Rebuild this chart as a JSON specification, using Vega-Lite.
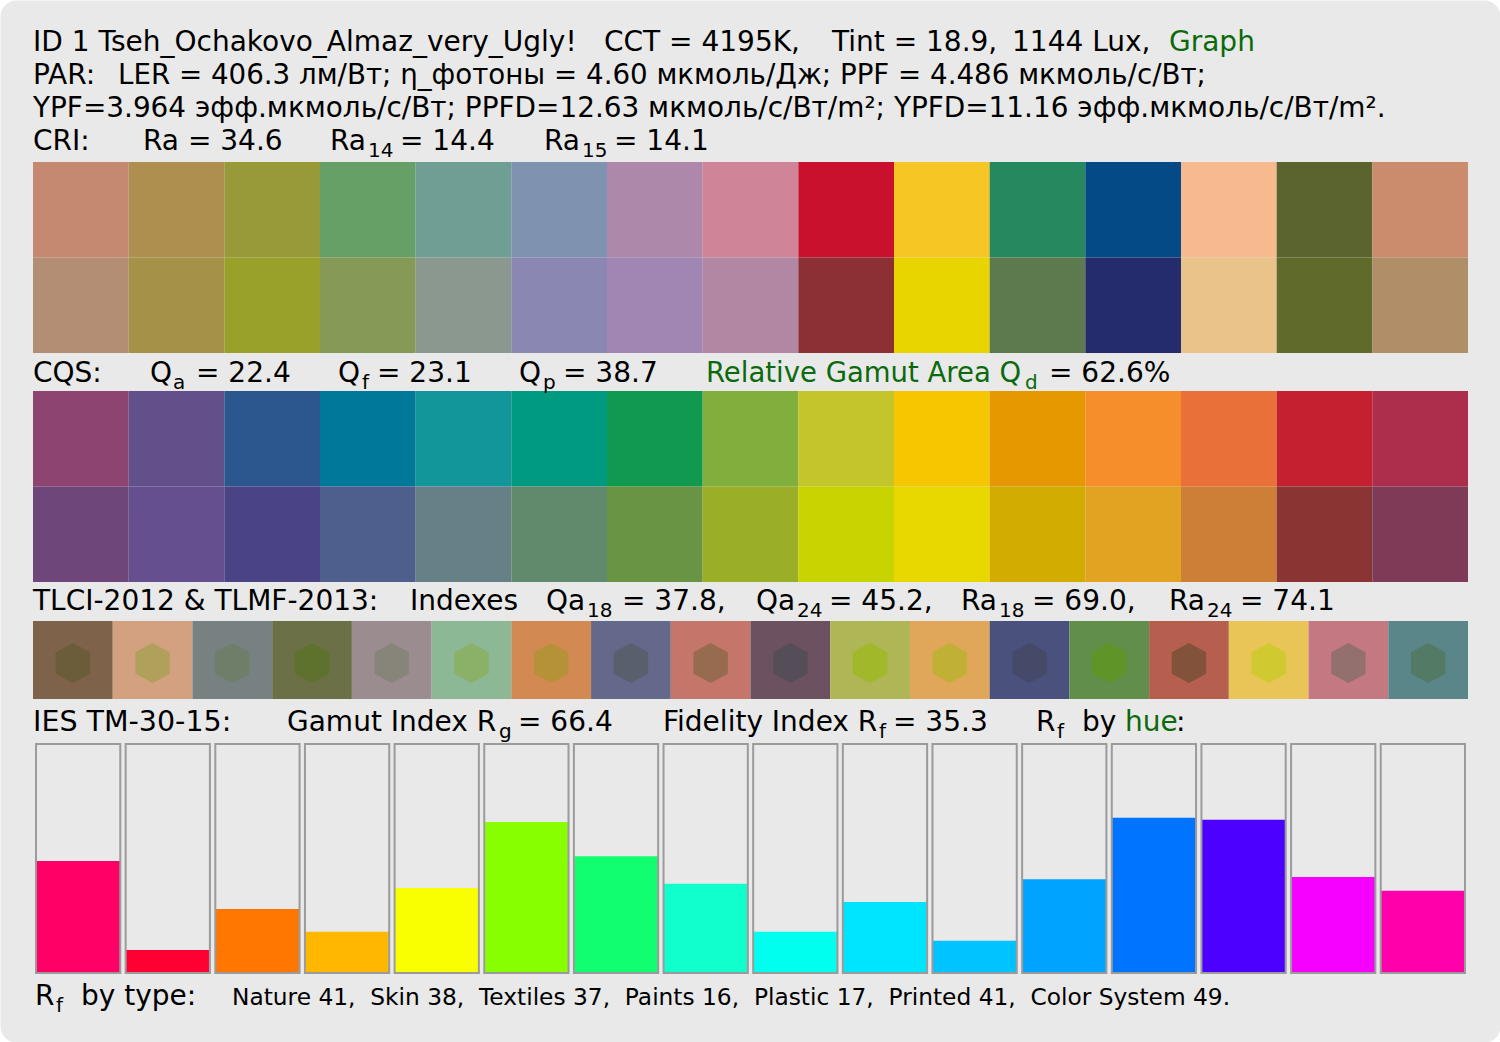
{
  "$schema": "https://vega.github.io/schema/vega-lite/v6.json",
  "width": 1500,
  "height": 1042,
  "autosize": {"type": "none"},
  "padding": 0,
  "background": "#ffffff",
  "view": {"fill": "#e9e9e9", "stroke": "transparent", "cornerRadius": 16},
  "config": {
    "text": {"font": "DejaVu Sans", "fontSize": 28, "align": "left", "baseline": "alphabetic", "fill": "#000000"}
  },
  "datasets": {
    "cri": [
      {"n": 1, "row": "top", "rgb": "#c58870"}, {"n": 2, "row": "top", "rgb": "#af8f50"}, {"n": 3, "row": "top", "rgb": "#989a3a"},
      {"n": 4, "row": "top", "rgb": "#67a067"}, {"n": 5, "row": "top", "rgb": "#6f9e94"}, {"n": 6, "row": "top", "rgb": "#7f93b1"},
      {"n": 7, "row": "top", "rgb": "#ae88aa"}, {"n": 8, "row": "top", "rgb": "#cf8498"}, {"n": 9, "row": "top", "rgb": "#c9112e"},
      {"n": 10, "row": "top", "rgb": "#f6c624"}, {"n": 11, "row": "top", "rgb": "#25885e"}, {"n": 12, "row": "top", "rgb": "#034a87"},
      {"n": 13, "row": "top", "rgb": "#f7ba8e"}, {"n": 14, "row": "top", "rgb": "#5b632e"}, {"n": 15, "row": "top", "rgb": "#cb8c6e"},
      {"n": 1, "row": "bottom", "rgb": "#b38e75"}, {"n": 2, "row": "bottom", "rgb": "#a69149"}, {"n": 3, "row": "bottom", "rgb": "#9aa12a"},
      {"n": 4, "row": "bottom", "rgb": "#849a56"}, {"n": 5, "row": "bottom", "rgb": "#8b9890"}, {"n": 6, "row": "bottom", "rgb": "#8a88b2"},
      {"n": 7, "row": "bottom", "rgb": "#a186b4"}, {"n": 8, "row": "bottom", "rgb": "#b287a4"}, {"n": 9, "row": "bottom", "rgb": "#8c3034"},
      {"n": 10, "row": "bottom", "rgb": "#e8d500"}, {"n": 11, "row": "bottom", "rgb": "#5c7a4e"}, {"n": 12, "row": "bottom", "rgb": "#252c6e"},
      {"n": 13, "row": "bottom", "rgb": "#eac38a"}, {"n": 14, "row": "bottom", "rgb": "#606a2a"}, {"n": 15, "row": "bottom", "rgb": "#b08e68"}
    ],
    "cqs": [
      {"n": 1, "row": "top", "rgb": "#8e4470"}, {"n": 2, "row": "top", "rgb": "#61508a"}, {"n": 3, "row": "top", "rgb": "#2b568e"},
      {"n": 4, "row": "top", "rgb": "#00789a"}, {"n": 5, "row": "top", "rgb": "#13969a"}, {"n": 6, "row": "top", "rgb": "#009a80"},
      {"n": 7, "row": "top", "rgb": "#10994f"}, {"n": 8, "row": "top", "rgb": "#81af3e"}, {"n": 9, "row": "top", "rgb": "#c4c42b"},
      {"n": 10, "row": "top", "rgb": "#f6c600"}, {"n": 11, "row": "top", "rgb": "#e59800"}, {"n": 12, "row": "top", "rgb": "#f68f2b"},
      {"n": 13, "row": "top", "rgb": "#ea703a"}, {"n": 14, "row": "top", "rgb": "#c4202f"}, {"n": 15, "row": "top", "rgb": "#ad2e4c"},
      {"n": 1, "row": "bottom", "rgb": "#6e4679"}, {"n": 2, "row": "bottom", "rgb": "#654f8f"}, {"n": 3, "row": "bottom", "rgb": "#4a4486"},
      {"n": 4, "row": "bottom", "rgb": "#4f5f8d"}, {"n": 5, "row": "bottom", "rgb": "#668088"}, {"n": 6, "row": "bottom", "rgb": "#618a6d"},
      {"n": 7, "row": "bottom", "rgb": "#689443"}, {"n": 8, "row": "bottom", "rgb": "#9bae28"}, {"n": 9, "row": "bottom", "rgb": "#c8d300"},
      {"n": 10, "row": "bottom", "rgb": "#e8d800"}, {"n": 11, "row": "bottom", "rgb": "#d2ac00"}, {"n": 12, "row": "bottom", "rgb": "#e2a222"},
      {"n": 13, "row": "bottom", "rgb": "#cd7f37"}, {"n": 14, "row": "bottom", "rgb": "#8a3434"}, {"n": 15, "row": "bottom", "rgb": "#7f3a57"}
    ],
    "tlci": [
      {"n": 1, "rgb": "#7e6249", "inner": "#6b5d3a"}, {"n": 2, "rgb": "#d3a080", "inner": "#b0a05c"},
      {"n": 3, "rgb": "#778181", "inner": "#6e7e68"}, {"n": 4, "rgb": "#6b7046", "inner": "#5e722e"},
      {"n": 5, "rgb": "#9b8c90", "inner": "#87857a"}, {"n": 6, "rgb": "#8db896", "inner": "#8bb068"},
      {"n": 7, "rgb": "#d38a52", "inner": "#b59138"}, {"n": 8, "rgb": "#64688a", "inner": "#58606d"},
      {"n": 9, "rgb": "#c5766a", "inner": "#976b50"}, {"n": 10, "rgb": "#6c5260", "inner": "#554d57"},
      {"n": 11, "rgb": "#afb656", "inner": "#a0b82a"}, {"n": 12, "rgb": "#e0a75a", "inner": "#c1b036"},
      {"n": 13, "rgb": "#4a517c", "inner": "#444a67"}, {"n": 14, "rgb": "#628e4c", "inner": "#5e9428"},
      {"n": 15, "rgb": "#b75f4f", "inner": "#82523a"}, {"n": 16, "rgb": "#e9c457", "inner": "#d0ca30"},
      {"n": 17, "rgb": "#c47882", "inner": "#93706d"}, {"n": 18, "rgb": "#5a868a", "inner": "#537a64"}
    ],
    "tm30": [
      {"bin": 1, "rf": 48.9}, {"bin": 2, "rf": 10.0}, {"bin": 3, "rf": 27.9}, {"bin": 4, "rf": 18.0},
      {"bin": 5, "rf": 37.1}, {"bin": 6, "rf": 65.9}, {"bin": 7, "rf": 51.0}, {"bin": 8, "rf": 39.0},
      {"bin": 9, "rf": 18.0}, {"bin": 10, "rf": 31.0}, {"bin": 11, "rf": 14.1}, {"bin": 12, "rf": 40.9},
      {"bin": 13, "rf": 67.8}, {"bin": 14, "rf": 66.9}, {"bin": 15, "rf": 41.9}, {"bin": 16, "rf": 35.9}
    ]
  },
  "resolve": {"scale": {"x": "independent", "y": "independent", "fill": "independent"}},
  "layer": [
    {
      "data": {"name": "cri"},
      "mark": {"type": "rect"},
      "encoding": {
        "x": {"field": "n", "type": "ordinal", "axis": null, "scale": {"range": [33, 1468], "paddingInner": 0, "paddingOuter": 0}},
        "y": {"field": "row", "type": "ordinal", "axis": null, "sort": ["top", "bottom"], "scale": {"range": [162, 353], "paddingInner": 0, "paddingOuter": 0}},
        "fill": {"field": "rgb", "type": "nominal", "scale": null}
      }
    },
    {
      "data": {"name": "cqs"},
      "mark": {"type": "rect"},
      "encoding": {
        "x": {"field": "n", "type": "ordinal", "axis": null, "scale": {"range": [33, 1468], "paddingInner": 0, "paddingOuter": 0}},
        "y": {"field": "row", "type": "ordinal", "axis": null, "sort": ["top", "bottom"], "scale": {"range": [391, 582], "paddingInner": 0, "paddingOuter": 0}},
        "fill": {"field": "rgb", "type": "nominal", "scale": null}
      }
    },
    {
      "data": {"name": "tlci"},
      "layer": [
        {
          "mark": {"type": "rect"},
          "encoding": {
            "x": {"field": "n", "type": "ordinal", "axis": null, "scale": {"range": [33, 1468], "paddingInner": 0, "paddingOuter": 0}},
            "y": {"datum": "TLCI", "type": "ordinal", "axis": null, "scale": {"range": [621, 699], "paddingInner": 0, "paddingOuter": 0}},
            "fill": {"field": "rgb", "type": "nominal", "scale": null}
          }
        },
        {
          "mark": {"type": "point", "filled": true, "opacity": 1, "strokeWidth": 0, "size": 1600, "yOffset": 3,
                   "shape": "M0,-1L0.86,-0.54L0.86,0.54L0,1L-0.86,0.54L-0.86,-0.54Z"},
          "encoding": {
            "x": {"field": "n", "type": "ordinal", "axis": null, "scale": {"range": [33, 1468], "paddingInner": 0, "paddingOuter": 0}},
            "y": {"datum": "TLCI", "type": "ordinal", "axis": null},
            "fill": {"field": "inner", "type": "nominal", "scale": null}
          }
        }
      ]
    },
    {
      "data": {"name": "tm30"},
      "layer": [
        {
          "mark": {"type": "rect", "fill": "#e9e9e9"},
          "encoding": {
            "x": {"field": "bin", "type": "ordinal", "axis": null, "scale": {"range": [36, 1465], "paddingInner": 0.06, "paddingOuter": 0}},
            "y": {"datum": 0, "type": "quantitative", "axis": null, "scale": {"domain": [0, 100], "range": [973, 744], "nice": false, "zero": false}},
            "y2": {"datum": 100}
          }
        },
        {
          "mark": {"type": "rect"},
          "encoding": {
            "x": {"field": "bin", "type": "ordinal", "axis": null},
            "y": {"field": "rf", "type": "quantitative", "axis": null},
            "y2": {"datum": 0},
            "fill": {"field": "bin", "type": "ordinal", "legend": null,
                     "scale": {"domain": [1, 2, 3, 4, 5, 6, 7, 8, 9, 10, 11, 12, 13, 14, 15, 16],
                               "range": ["#ff0066", "#ff0033", "#ff7700", "#ffb700", "#f9ff00", "#88ff00", "#11ff6e", "#11ffcc", "#00ffee", "#00e5ff", "#00c3ff", "#00a3ff", "#0073ff", "#4c00ff", "#f600ff", "#ff00aa"]}}
          }
        },
        {
          "mark": {"type": "rect", "fillOpacity": 0, "stroke": "#9b9b9b", "strokeWidth": 2},
          "encoding": {
            "x": {"field": "bin", "type": "ordinal", "axis": null},
            "y": {"datum": 0, "type": "quantitative", "axis": null},
            "y2": {"datum": 100}
          }
        }
      ]
    },
    {"data": {"values": [{}]}, "mark": {"type": "text", "x": 33, "y": 51, "text": "ID 1 Tseh_Ochakovo_Almaz_very_Ugly!"}},
    {"data": {"values": [{}]}, "mark": {"type": "text", "x": 604, "y": 51, "text": "CCT = 4195K,"}},
    {"data": {"values": [{}]}, "mark": {"type": "text", "x": 832, "y": 51, "text": "Tint = 18.9,"}},
    {"data": {"values": [{}]}, "mark": {"type": "text", "x": 1012, "y": 51, "text": "1144 Lux,"}},
    {"data": {"values": [{}]}, "mark": {"type": "text", "x": 1169, "y": 51, "text": "Graph", "fill": "#0b6a0b"}},
    {"data": {"values": [{}]}, "mark": {"type": "text", "x": 33, "y": 84, "text": "PAR:"}},
    {"data": {"values": [{}]}, "mark": {"type": "text", "x": 118, "y": 84, "fontSize": 27.7, "text": "LER = 406.3 лм/Вт; η_фотоны = 4.60 мкмоль/Дж; PPF = 4.486 мкмоль/с/Вт;"}},
    {"data": {"values": [{}]}, "mark": {"type": "text", "x": 33, "y": 117, "fontSize": 27.9, "text": "YPF=3.964 эфф.мкмоль/с/Вт; PPFD=12.63 мкмоль/с/Вт/m²; YPFD=11.16 эфф.мкмоль/с/Вт/m²."}},
    {"data": {"values": [{}]}, "mark": {"type": "text", "x": 33, "y": 150, "text": "CRI:"}},
    {"data": {"values": [{}]}, "mark": {"type": "text", "x": 143, "y": 150, "text": "Ra = 34.6"}},
    {"data": {"values": [{}]}, "mark": {"type": "text", "x": 330, "y": 150, "text": "Ra"}},
    {"data": {"values": [{}]}, "mark": {"type": "text", "x": 368, "y": 157, "text": "14", "fontSize": 20}},
    {"data": {"values": [{}]}, "mark": {"type": "text", "x": 400, "y": 150, "text": "= 14.4"}},
    {"data": {"values": [{}]}, "mark": {"type": "text", "x": 544, "y": 150, "text": "Ra"}},
    {"data": {"values": [{}]}, "mark": {"type": "text", "x": 582, "y": 157, "text": "15", "fontSize": 20}},
    {"data": {"values": [{}]}, "mark": {"type": "text", "x": 614, "y": 150, "text": "= 14.1"}},
    {"data": {"values": [{}]}, "mark": {"type": "text", "x": 33, "y": 382, "text": "CQS:"}},
    {"data": {"values": [{}]}, "mark": {"type": "text", "x": 150, "y": 382, "text": "Q"}},
    {"data": {"values": [{}]}, "mark": {"type": "text", "x": 173, "y": 389, "text": "a", "fontSize": 20}},
    {"data": {"values": [{}]}, "mark": {"type": "text", "x": 196, "y": 382, "text": "= 22.4"}},
    {"data": {"values": [{}]}, "mark": {"type": "text", "x": 338, "y": 382, "text": "Q"}},
    {"data": {"values": [{}]}, "mark": {"type": "text", "x": 362, "y": 389, "text": "f", "fontSize": 20}},
    {"data": {"values": [{}]}, "mark": {"type": "text", "x": 377, "y": 382, "text": "= 23.1"}},
    {"data": {"values": [{}]}, "mark": {"type": "text", "x": 519, "y": 382, "text": "Q"}},
    {"data": {"values": [{}]}, "mark": {"type": "text", "x": 543, "y": 389, "text": "p", "fontSize": 20}},
    {"data": {"values": [{}]}, "mark": {"type": "text", "x": 563, "y": 382, "text": "= 38.7"}},
    {"data": {"values": [{}]}, "mark": {"type": "text", "x": 706, "y": 382, "fontSize": 27.5, "text": "Relative Gamut Area Q", "fill": "#0b6a0b"}},
    {"data": {"values": [{}]}, "mark": {"type": "text", "x": 1025, "y": 389, "text": "d", "fontSize": 20, "fill": "#0b6a0b"}},
    {"data": {"values": [{}]}, "mark": {"type": "text", "x": 1049, "y": 382, "text": "= 62.6%"}},
    {"data": {"values": [{}]}, "mark": {"type": "text", "x": 33, "y": 610, "text": "TLCI-2012 & TLMF-2013:"}},
    {"data": {"values": [{}]}, "mark": {"type": "text", "x": 410, "y": 610, "text": "Indexes"}},
    {"data": {"values": [{}]}, "mark": {"type": "text", "x": 546, "y": 610, "text": "Qa"}},
    {"data": {"values": [{}]}, "mark": {"type": "text", "x": 587, "y": 617, "text": "18", "fontSize": 20}},
    {"data": {"values": [{}]}, "mark": {"type": "text", "x": 622, "y": 610, "text": "= 37.8,"}},
    {"data": {"values": [{}]}, "mark": {"type": "text", "x": 756, "y": 610, "text": "Qa"}},
    {"data": {"values": [{}]}, "mark": {"type": "text", "x": 797, "y": 617, "text": "24", "fontSize": 20}},
    {"data": {"values": [{}]}, "mark": {"type": "text", "x": 829, "y": 610, "text": "= 45.2,"}},
    {"data": {"values": [{}]}, "mark": {"type": "text", "x": 961, "y": 610, "text": "Ra"}},
    {"data": {"values": [{}]}, "mark": {"type": "text", "x": 999, "y": 617, "text": "18", "fontSize": 20}},
    {"data": {"values": [{}]}, "mark": {"type": "text", "x": 1032, "y": 610, "text": "= 69.0,"}},
    {"data": {"values": [{}]}, "mark": {"type": "text", "x": 1169, "y": 610, "text": "Ra"}},
    {"data": {"values": [{}]}, "mark": {"type": "text", "x": 1207, "y": 617, "text": "24", "fontSize": 20}},
    {"data": {"values": [{}]}, "mark": {"type": "text", "x": 1240, "y": 610, "text": "= 74.1"}},
    {"data": {"values": [{}]}, "mark": {"type": "text", "x": 33, "y": 731, "fontSize": 28.5, "text": "IES TM-30-15:"}},
    {"data": {"values": [{}]}, "mark": {"type": "text", "x": 287, "y": 731, "text": "Gamut Index R"}},
    {"data": {"values": [{}]}, "mark": {"type": "text", "x": 499, "y": 738, "text": "g", "fontSize": 20}},
    {"data": {"values": [{}]}, "mark": {"type": "text", "x": 518, "y": 731, "text": "= 66.4"}},
    {"data": {"values": [{}]}, "mark": {"type": "text", "x": 663, "y": 731, "text": "Fidelity Index R"}},
    {"data": {"values": [{}]}, "mark": {"type": "text", "x": 879, "y": 738, "text": "f", "fontSize": 20}},
    {"data": {"values": [{}]}, "mark": {"type": "text", "x": 893, "y": 731, "text": "= 35.3"}},
    {"data": {"values": [{}]}, "mark": {"type": "text", "x": 1036, "y": 731, "text": "R"}},
    {"data": {"values": [{}]}, "mark": {"type": "text", "x": 1057, "y": 738, "text": "f", "fontSize": 20}},
    {"data": {"values": [{}]}, "mark": {"type": "text", "x": 1082, "y": 731, "text": "by"}},
    {"data": {"values": [{}]}, "mark": {"type": "text", "x": 1125, "y": 731, "text": "hue", "fill": "#0b6a0b"}},
    {"data": {"values": [{}]}, "mark": {"type": "text", "x": 1176, "y": 731, "text": ":"}},
    {"data": {"values": [{}]}, "mark": {"type": "text", "x": 35, "y": 1005, "text": "R"}},
    {"data": {"values": [{}]}, "mark": {"type": "text", "x": 56, "y": 1012, "text": "f", "fontSize": 20}},
    {"data": {"values": [{}]}, "mark": {"type": "text", "x": 81, "y": 1005, "text": "by type:"}},
    {"data": {"values": [{}]}, "mark": {"type": "text", "x": 232, "y": 1005, "fontSize": 23.3, "text": "Nature 41,\u00a0 Skin 38,\u00a0 Textiles 37,\u00a0 Paints 16,\u00a0 Plastic 17,\u00a0 Printed 41,\u00a0 Color System 49."}}
  ]
}
